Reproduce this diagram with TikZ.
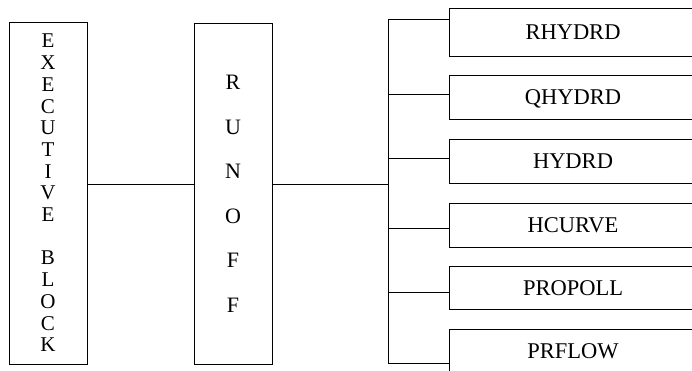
\documentclass[tikz,border=0pt]{standalone}
\usepackage{fontspec}
\setmainfont{Liberation Serif}
\begin{document}
\begin{tikzpicture}[x=1pt,y=-1pt,line width=1pt,
  blockbox/.style={draw,inner sep=0pt,align=center,minimum width=78pt},
  module/.style={draw,inner sep=0pt,minimum width=248pt,
    font=\fontsize{22.5}{27}\selectfont,text height=15pt,text depth=0pt},
  link/.style={draw}]
\useasboundingbox (0,0) rectangle (692,370);
\clip (0,0) rectangle (692,370);

% main program blocks
\node[blockbox,minimum height=342pt,font=\fontsize{21}{21.7}\selectfont] (exec) at (48,193)
  {E\\X\\E\\C\\U\\T\\I\\V\\E\\[21.7pt]B\\L\\O\\C\\K};
\node[blockbox,minimum height=341pt,font=\fontsize{22}{44.5}\selectfont] (runoff) at (233,194)
  {R\\U\\N\\O\\F\\F};

% subroutine boxes (open to the right)
\node[module,minimum height=48pt] (rhydrd)  at (573,32)    {RHYDRD};
\node[module,minimum height=44pt] (qhydrd)  at (573,97)    {QHYDRD};
\node[module,minimum height=44pt] (hydrd)   at (573,161)   {HYDRD};
\node[module,minimum height=44pt] (hcurve)  at (573,225)   {HCURVE};
\node[module,minimum height=43pt] (propoll) at (573,287.5) {PROPOLL};
\node[module,minimum height=44pt] (prflow)  at (573,351)   {PRFLOW};

% bus taps
\coordinate (hub) at (388,184);
\coordinate (t1) at (388,19);
\coordinate (t2) at (388,94);
\coordinate (t3) at (388,158);
\coordinate (t4) at (388,228);
\coordinate (t5) at (388,292);
\coordinate (t6) at (388,363);

% connectors
\path[link] (exec.east |- hub) -- (runoff.west |- hub);
\path[link] (runoff.east |- hub) -- (hub);
\path[link] (t1) -- (t6);
\path[link] (t1) -- (t1 -| rhydrd.west);
\path[link] (t2) -- (t2 -| qhydrd.west);
\path[link] (t3) -- (t3 -| hydrd.west);
\path[link] (t4) -- (t4 -| hcurve.west);
\path[link] (t5) -- (t5 -| propoll.west);
\path[link] (t6) -- (t6 -| prflow.west);
\end{tikzpicture}
\end{document}
